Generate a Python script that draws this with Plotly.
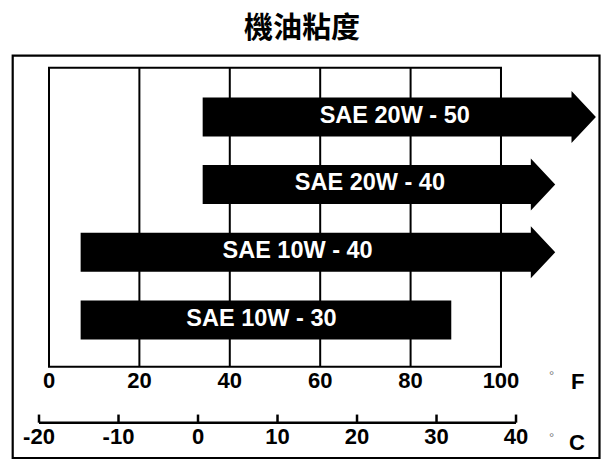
import plotly.graph_objects as go

# oil grades, bottom row first
grades = ["SAE 10W - 30", "SAE 10W - 40", "SAE 20W - 40", "SAE 20W - 50"]
start_f = [7, 7, 34, 34]          # lowest temperature, F
end_f = [89, 112, 112, 121]       # end of bar / arrow tip, F
has_arrow = [False, True, True, True]
label_f = [47, 55, 71, 76.5]      # where the grade name sits

f_ticks = [0, 20, 40, 60, 80, 100]
c_ticks = [-20, -10, 0, 10, 20, 30, 40]

BAR_H = 0.288     # half height of a bar (row units)
HEAD_H = 0.384    # half height of an arrow head
HEAD_L = 5.4      # arrow head length, F
GRID_TOP = 3.727
GRID_BOT = -0.69
C_LINE = -1.517

fig = go.Figure()

# bars / arrows
for row, (s, e, arr) in enumerate(zip(start_f, end_f, has_arrow)):
    if arr:
        b = e - HEAD_L
        xs = [s, b, b, e, b, b, s, s]
        ys = [row - BAR_H, row - BAR_H, row - HEAD_H, row, row + HEAD_H, row + BAR_H, row + BAR_H, row - BAR_H]
    else:
        xs = [s, e, e, s, s]
        ys = [row - BAR_H, row - BAR_H, row + BAR_H, row + BAR_H, row - BAR_H]
    fig.add_trace(go.Scatter(x=xs, y=ys, mode="lines", fill="toself", fillcolor="black",
                             line=dict(color="black", width=0), hoverinfo="skip", showlegend=False))

fig.add_trace(go.Scatter(x=label_f, y=list(range(len(grades))), mode="text", text=grades,
                         textfont=dict(family="Liberation Sans, Arial", size=23.5, color="white", weight="bold"),
                         showlegend=False, hoverinfo="skip"))

# Fahrenheit labels
fig.add_trace(go.Scatter(x=f_ticks, y=[-0.93] * len(f_ticks), mode="text", text=[str(t) for t in f_ticks],
                         textfont=dict(family="Liberation Sans, Arial", size=22, color="black", weight="bold"),
                         showlegend=False, hoverinfo="skip"))

# Celsius scale
cx, cy = [c_ticks[0], c_ticks[-1], None], [C_LINE, C_LINE, None]
for t in c_ticks:
    cx += [t, t, None]
    cy += [C_LINE, C_LINE + 0.12, None]
fig.add_trace(go.Scatter(x=cx, y=cy, xaxis="x2", mode="lines", line=dict(color="black", width=2.5),
                         showlegend=False, hoverinfo="skip"))
fig.add_trace(go.Scatter(x=c_ticks, y=[-1.75] * len(c_ticks), xaxis="x2", mode="text",
                         text=[str(t) for t in c_ticks],
                         textfont=dict(family="Liberation Sans, Arial", size=22, color="black", weight="bold"),
                         showlegend=False, hoverinfo="skip"))

# grid box and vertical lines
shapes = [dict(type="rect", xref="x", yref="y", x0=f_ticks[0], x1=f_ticks[-1], y0=GRID_BOT, y1=GRID_TOP,
               line=dict(color="black", width=2), layer="below")]
for t in f_ticks[1:-1]:
    shapes.append(dict(type="line", xref="x", yref="y", x0=t, x1=t, y0=GRID_BOT, y1=GRID_TOP,
                       line=dict(color="black", width=2), layer="below"))
# outer frame
shapes.append(dict(type="rect", xref="paper", yref="paper", x0=12.7 / 603, x1=599.5 / 603,
                   y0=1 - 458 / 461, y1=1 - 55.7 / 461, line=dict(color="black", width=2.2), layer="below"))

unit_font = dict(family="Liberation Sans, Arial", size=22, color="black", weight="bold")
deg_font = dict(family="Liberation Sans, Arial", size=13, color="#777777")


def note(text, px, py, font):
    # text placed by pixel position in the 603x461 picture
    return dict(text=text, x=px / 603, y=1 - py / 461, xref="paper", yref="paper", showarrow=False,
                xanchor="center", yanchor="middle", font=font)


annotations = [
    note("機油粘度", 302, 25, dict(family="Noto Sans CJK TC", size=29, color="black", weight="bold")),
    note("°", 551.7, 375, deg_font),
    note("F", 577, 381, unit_font),
    note("°", 551.7, 437, deg_font),
    note("C", 577, 442, unit_font),
]

fig.update_layout(
    width=603, height=461,
    margin=dict(l=0, r=0, t=0, b=0),
    paper_bgcolor="white", plot_bgcolor="white",
    xaxis=dict(range=[-10.84, 122.57], visible=False, fixedrange=True),
    xaxis2=dict(range=[-24.906, 50.94], overlaying="x", visible=False, fixedrange=True),
    yaxis=dict(range=[-2.083, 4.727], visible=False, fixedrange=True),
    shapes=shapes,
    annotations=annotations,
    showlegend=False,
)

# page body has an 8px default margin; drop it so the chart fills the window
fig.write_html("out.html", config={"displayModeBar": False},
               post_script="document.body.style.margin='0';")
